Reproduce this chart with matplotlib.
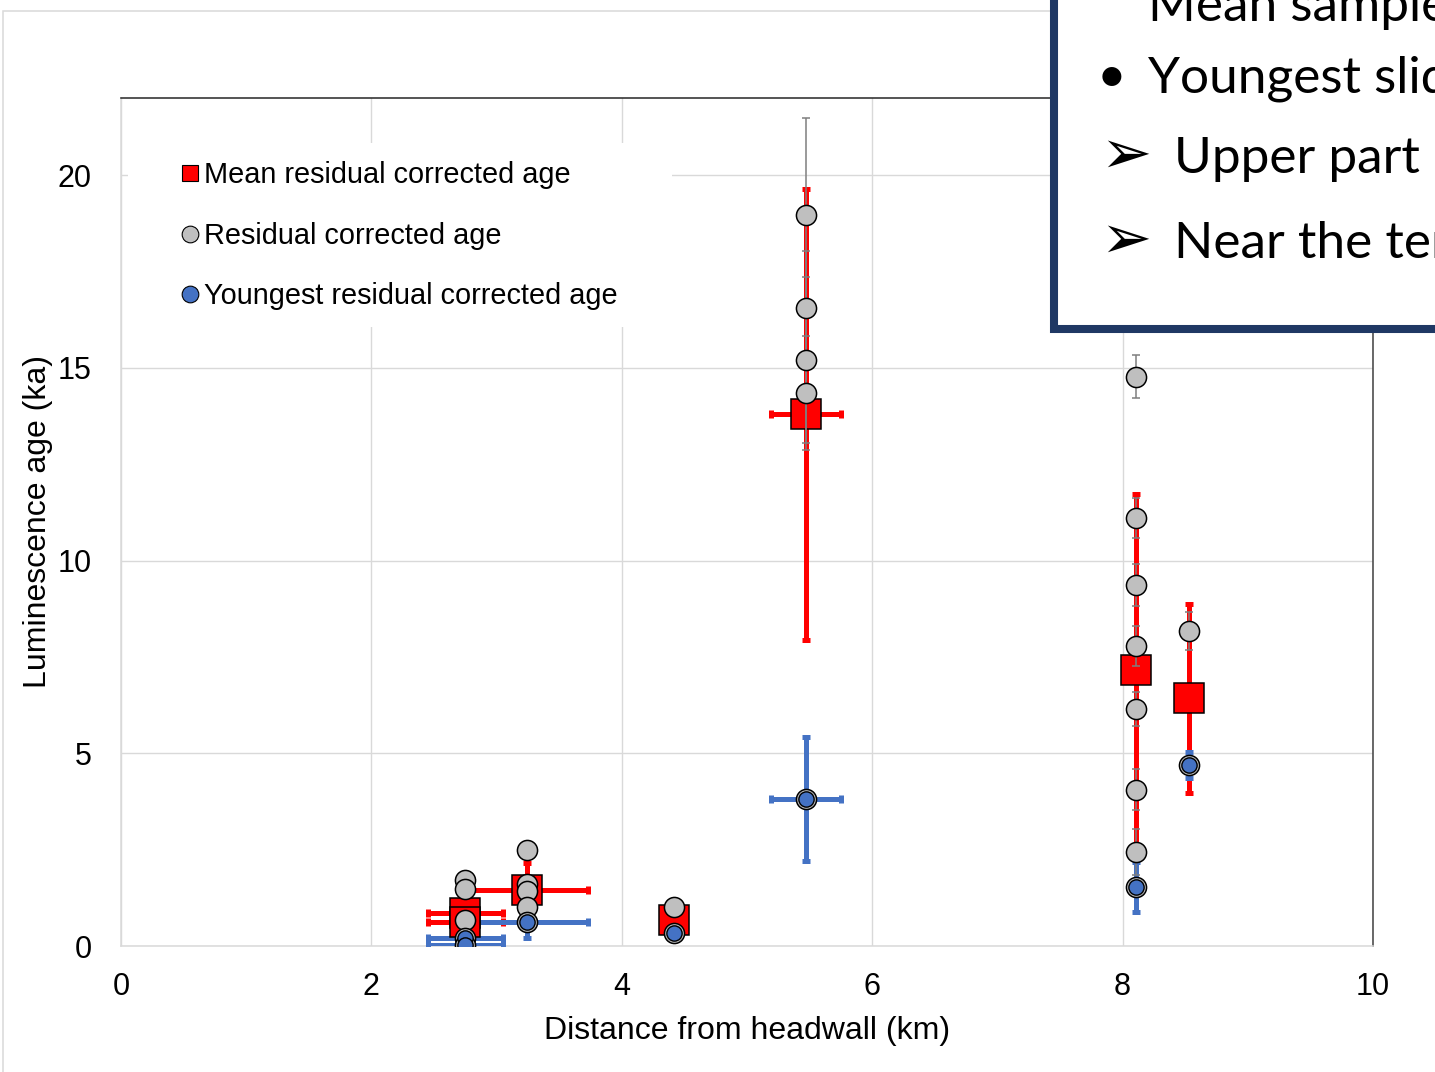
import matplotlib
matplotlib.use("Agg")
import matplotlib.pyplot as plt
from matplotlib.lines import Line2D
from matplotlib.patches import Rectangle

plt.rcParams['font.family'] = ['Liberation Sans', 'DejaVu Sans']

# mean residual corrected age of each sample (km from headwall, ka)
mean_km = [2.75, 2.75, 3.24, 4.42, 5.47, 8.11, 8.53]
mean_ka = [0.86, 0.62, 1.45, 0.67, 13.8, 7.16, 6.43]
mean_ka_err = [0, 0, 0.7, 0, 5.85, 4.56, 2.45]
mean_km_err = [0.3, 0.3, 0.49, 0, 0.28, 0, 0]

# youngest residual corrected age of each sample
young_km = [2.75, 2.75, 3.24, 4.42, 5.47, 8.11, 8.53]
young_ka = [0.2, 0.02, 0.62, 0.35, 3.81, 1.53, 4.7]
young_ka_err = [0, 0, 0.42, 0, 1.6, 0.65, 0.34]
young_km_err = [0.3, 0.3, 0.49, 0, 0.28, 0, 0]

# every residual corrected age
res_km = [2.75, 2.75, 2.75, 2.75, 2.75,
          3.24, 3.24, 3.24, 3.24, 3.24,
          4.42, 4.42,
          5.47, 5.47, 5.47, 5.47, 5.47,
          8.11, 8.11, 8.11, 8.11, 8.11, 8.11, 8.11, 8.11,
          8.53, 8.53]
res_ka = [1.72, 1.48, 0.67, 0.2, 0.02,
          2.48, 1.6, 1.42, 1.02, 0.62,
          1.0, 0.35,
          18.96, 16.55, 15.2, 14.35, 3.81,
          14.77, 11.1, 9.36, 7.78, 6.15, 4.06, 2.44, 1.53,
          8.17, 4.7]
res_ka_err = [0, 0, 0, 0, 0,
              0, 0, 0, 0, 0,
              0, 0,
              2.52, 1.48, 2.15, 1.47, 0,
              0.55, 0.52, 0.54, 0.52, 0.45, 0.53, 0.59, 0,
              0.5, 0]

box_lines = ["Mean sample age", "Youngest slide", "Upper part", "Near the terminus"]

RED = '#ff0000'
BLUE = '#4472c4'
GREY = '#bfbfbf'

W, H = 1435, 1072
fig = plt.figure(figsize=(W / 100, H / 100), dpi=100)
ax = fig.add_axes([121 / W, (H - 946) / H, 1252 / W, 848 / H])

# error bars
ax.errorbar(mean_km, mean_ka, yerr=mean_ka_err, xerr=mean_km_err, fmt='none',
            ecolor=RED, elinewidth=3.6, capsize=3, capthick=3.6, zorder=2)
ax.errorbar(young_km, young_ka, yerr=young_ka_err, xerr=young_km_err, fmt='none',
            ecolor=BLUE, elinewidth=3.6, capsize=3, capthick=3.6, zorder=3)
ax.plot(mean_km, mean_ka, 's', ms=22, mfc=RED, mec='black', mew=1.1, zorder=4)
ax.errorbar(res_km, res_ka, yerr=res_ka_err, fmt='none', ecolor='#7f7f7f',
            elinewidth=1.1, capsize=3, capthick=1.1, zorder=5)
ax.plot(res_km, res_ka, 'o', ms=14.5, mfc=GREY, mec='black', mew=1.1, zorder=6)
ax.plot(young_km, young_ka, 'o', ms=11, mfc=BLUE, mec='black', mew=1.0, zorder=7)

ax.set_xlim(0, 10)
ax.set_ylim(0, 22)
ax.set_xticks([0, 2, 4, 6, 8, 10])
ax.set_yticks([0, 5, 10, 15, 20])
ax.tick_params(length=0, labelsize=22)
ax.tick_params(axis='x', pad=19)
ax.tick_params(axis='y', pad=21)
ax.grid(True, color='#d9d9d9', lw=1.0)
ax.set_axisbelow(True)
for side, col in [('top', '#262626'), ('right', '#404040'),
                  ('left', '#d9d9d9'), ('bottom', '#d9d9d9')]:
    ax.spines[side].set_color(col)
    ax.spines[side].set_linewidth(1.1)

ax.set_xlabel('Distance from headwall (km)', fontsize=23)
ax.set_ylabel('Luminescence age (ka)', fontsize=23)
ax.xaxis.set_label_coords(0.5, -0.083)
ax.yaxis.set_label_coords(-0.054, 0.5)

# white panel behind the legend
ax.add_patch(Rectangle(((128 - 121) / 1252, (946 - 327) / 848), 544 / 1252, 184 / 848,
                       transform=ax.transAxes, fc='white', ec='none', zorder=1))
handles = [
    Line2D([], [], ls='none', marker='s', ms=12, mfc=RED, mec='black', mew=0.8),
    Line2D([], [], ls='none', marker='o', ms=12, mfc=GREY, mec='black', mew=0.8),
    Line2D([], [], ls='none', marker='o', ms=12, mfc=BLUE, mec='black', mew=0.8),
]
labels = ['Mean residual corrected age', 'Residual corrected age',
          'Youngest residual corrected age']
ax.legend(handles, labels, loc='upper left',
          bbox_to_anchor=((181 - 121) / 1252, (946 - 161) / 848),
          frameon=False, fontsize=20.8, borderpad=0, borderaxespad=0,
          handlelength=0.6, handletextpad=0.2, labelspacing=1.13)

# light outer frame
fig.add_artist(Rectangle((3 / W, -0.1), 1.2, 0.1 + (H - 11) / H, transform=fig.transFigure,
                         fill=False, ec='#d9d9d9', lw=1.1, zorder=0.5))

# text box laid over the top right corner
fig.add_artist(Rectangle((1054 / W, (H - 329) / H), 1, 1, transform=fig.transFigure,
                         fc='white', ec='#1f3864', lw=5.8, zorder=10))
box_font = ['Lato', 'DejaVu Sans']
fig.text(1148 / W, (H - 20) / H, box_lines[0], fontsize=37, family=box_font,
         va='baseline', zorder=11)
fig.text(1097 / W, (H - 92) / H, '\u2022', fontsize=37, family=box_font,
         va='baseline', zorder=11)
fig.text(1148 / W, (H - 92) / H, box_lines[1], fontsize=37, family=box_font,
         va='baseline', zorder=11)
for yb, line in [(173, box_lines[2]), (258, box_lines[3])]:
    fig.text(1100 / W, (H - yb) / H, '\u27a2', fontsize=44, family=['DejaVu Sans'],
             va='baseline', zorder=11)
    fig.text(1174 / W, (H - yb) / H, line, fontsize=37, family=box_font,
             va='baseline', zorder=11)

fig.savefig('out.png', dpi=100)
